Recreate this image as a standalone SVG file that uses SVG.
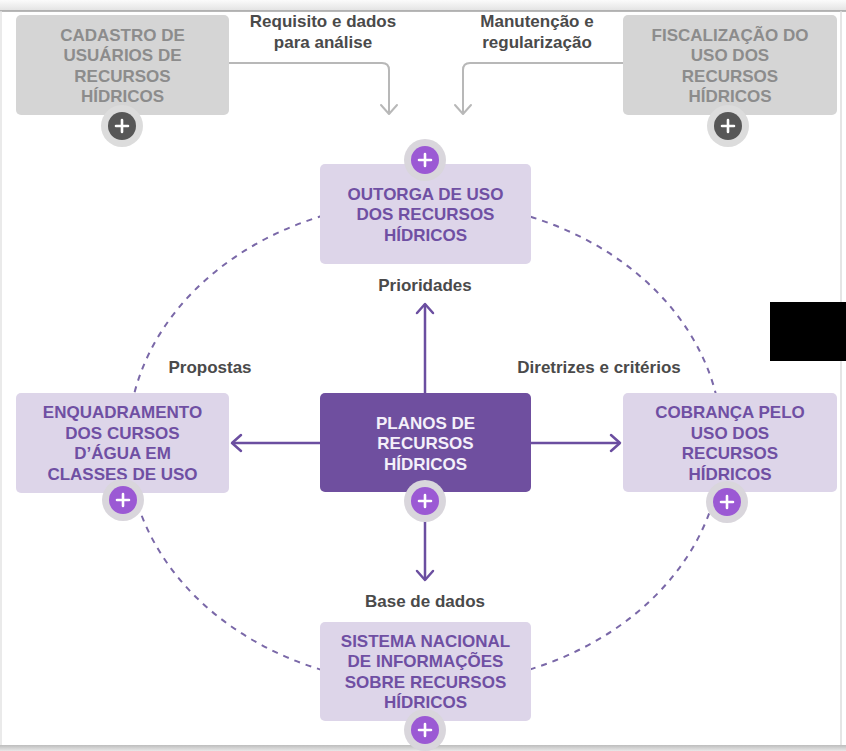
<svg xmlns="http://www.w3.org/2000/svg" width="846" height="751" viewBox="0 0 846 751">
<defs>
<linearGradient id="topg" x1="0" y1="0" x2="0" y2="1"><stop offset="0" stop-color="#fbfbfb"/><stop offset="1" stop-color="#e2e2e2"/></linearGradient>
<linearGradient id="botg" x1="0" y1="0" x2="0" y2="1"><stop offset="0" stop-color="#bdbdbd"/><stop offset="1" stop-color="#e8e8e8"/></linearGradient>
<marker id="ap" viewBox="0 0 20 20" refX="17" refY="10" markerWidth="20" markerHeight="20" markerUnits="userSpaceOnUse" orient="auto"><path d="M8,2 L17,10 L8,18" fill="none" stroke="#6b4ea0" stroke-width="2.5" stroke-linecap="round" stroke-linejoin="round"/></marker>
<marker id="ag" viewBox="0 0 20 20" refX="17" refY="10" markerWidth="20" markerHeight="20" markerUnits="userSpaceOnUse" orient="auto"><path d="M8,2 L17,10 L8,18" fill="none" stroke="#b8b8b8" stroke-width="2" stroke-linecap="round" stroke-linejoin="round"/></marker>
<g id="plusP"><circle r="21" fill="#d9d6dc"/><circle r="14" fill="#9b59d4"/><path d="M-6,0 H6 M0,-6 V6" stroke="#fff" stroke-width="2.6" stroke-linecap="round"/></g>
<g id="plusG"><circle r="21" fill="#dcdcdc"/><circle r="14" fill="#575757"/><path d="M-6,0 H6 M0,-6 V6" stroke="#fff" stroke-width="2.6" stroke-linecap="round"/></g>
</defs>
<style>
text{font-family:"Liberation Sans",Arial,sans-serif;font-weight:bold;font-size:17px;text-anchor:middle}
.gbox{fill:#d5d5d5}
.gt{fill:#8c8c8c}
.lbox{fill:#ddd5e9}
.lt{fill:#6f4fa3}
.dbox{fill:#6f4f9f}
.wt{fill:#f4f0fa}
.lab{fill:#4a4a4a}
.arr{fill:none;stroke:#6b4ea0;stroke-width:2.5}
.garr{fill:none;stroke:#b8b8b8;stroke-width:2}
</style>
<rect width="846" height="751" fill="#fff"/>
<rect x="0" y="0" width="846" height="11" fill="url(#topg)"/>
<line x1="0" y1="11" x2="846" y2="11" stroke="#a0a0a0" stroke-width="1.5"/>
<line x1="1" y1="11" x2="1" y2="746" stroke="#e3e3e3" stroke-width="1.5"/>
<line x1="841" y1="11" x2="841" y2="746" stroke="#dcdcdc" stroke-width="1.5"/>
<rect x="0" y="745" width="846" height="6" fill="url(#botg)"/>

<g id="connectors">
<ellipse cx="425" cy="443" rx="297" ry="242" fill="none" stroke="#7a68a8" stroke-width="2" stroke-dasharray="6 6"/>
<path class="garr" d="M229,63 H382 Q389,63 389,70 V114" marker-end="url(#ag)"/>
<path class="garr" d="M623,63 H470 Q463,63 463,70 V114" marker-end="url(#ag)"/>
<line class="arr" x1="425" y1="393" x2="425" y2="304" marker-end="url(#ap)"/>
<line class="arr" x1="425" y1="500" x2="425" y2="580" marker-end="url(#ap)"/>
<line class="arr" x1="320" y1="443" x2="232" y2="443" marker-end="url(#ap)"/>
<line class="arr" x1="531" y1="443" x2="620" y2="443" marker-end="url(#ap)"/>
<text class="lab" x="323" y="27">Requisito e dados</text>
<text class="lab" x="323" y="48">para análise</text>
<text class="lab" x="537" y="27">Manutenção e</text>
<text class="lab" x="537" y="48">regularização</text>
<text class="lab" x="425" y="291">Prioridades</text>
<text class="lab" x="210" y="373">Propostas</text>
<text class="lab" x="599" y="373">Diretrizes e critérios</text>
<text class="lab" x="425" y="607">Base de dados</text>
</g>

<g id="cadastro">
<rect class="gbox" x="16" y="15" width="213" height="100" rx="5"/>
<text class="gt" x="122.5" y="40.5">CADASTRO DE</text>
<text class="gt" x="122.5" y="61">USUÁRIOS DE</text>
<text class="gt" x="122.5" y="81.5">RECURSOS</text>
<text class="gt" x="122.5" y="102">HÍDRICOS</text>
<use href="#plusG" x="122" y="126"/>
</g>
<g id="fiscalizacao">
<rect class="gbox" x="623" y="15" width="214" height="100" rx="5"/>
<text class="gt" x="730" y="40.5">FISCALIZAÇÃO DO</text>
<text class="gt" x="730" y="61">USO DOS</text>
<text class="gt" x="730" y="81.5">RECURSOS</text>
<text class="gt" x="730" y="102">HÍDRICOS</text>
<use href="#plusG" x="728" y="126"/>
</g>
<g id="outorga">
<rect class="lbox" x="320" y="164" width="211" height="100" rx="5"/>
<text class="lt" x="425.5" y="199.5">OUTORGA DE USO</text>
<text class="lt" x="425.5" y="220">DOS RECURSOS</text>
<text class="lt" x="425.5" y="240.5">HÍDRICOS</text>
<use href="#plusP" x="425" y="160"/>
</g>
<g id="planos">
<rect class="dbox" x="320" y="393" width="211" height="99" rx="5"/>
<text class="wt" x="425.5" y="428.5">PLANOS DE</text>
<text class="wt" x="425.5" y="449">RECURSOS</text>
<text class="wt" x="425.5" y="469.5">HÍDRICOS</text>
<use href="#plusP" x="425" y="501"/>
</g>
<g id="enquadramento">
<rect class="lbox" x="16" y="393" width="213" height="100" rx="5"/>
<text class="lt" x="122.5" y="418">ENQUADRAMENTO</text>
<text class="lt" x="122.5" y="438.5">DOS CURSOS</text>
<text class="lt" x="122.5" y="459">D’ÁGUA EM</text>
<text class="lt" x="122.5" y="479.5">CLASSES DE USO</text>
<use href="#plusP" x="123" y="500"/>
</g>
<g id="cobranca">
<rect class="lbox" x="623" y="393" width="214" height="99" rx="5"/>
<text class="lt" x="730" y="418">COBRANÇA PELO</text>
<text class="lt" x="730" y="438.5">USO DOS</text>
<text class="lt" x="730" y="459">RECURSOS</text>
<text class="lt" x="730" y="479.5">HÍDRICOS</text>
<use href="#plusP" x="727" y="502"/>
</g>
<g id="snirh">
<rect class="lbox" x="320" y="622" width="211" height="99" rx="5"/>
<text class="lt" x="425.5" y="646.5">SISTEMA NACIONAL</text>
<text class="lt" x="425.5" y="667">DE INFORMAÇÕES</text>
<text class="lt" x="425.5" y="687.5">SOBRE RECURSOS</text>
<text class="lt" x="425.5" y="708">HÍDRICOS</text>
<use href="#plusP" x="425" y="730"/>
</g>
<rect x="770" y="302" width="76" height="59" fill="#000"/>
</svg>
